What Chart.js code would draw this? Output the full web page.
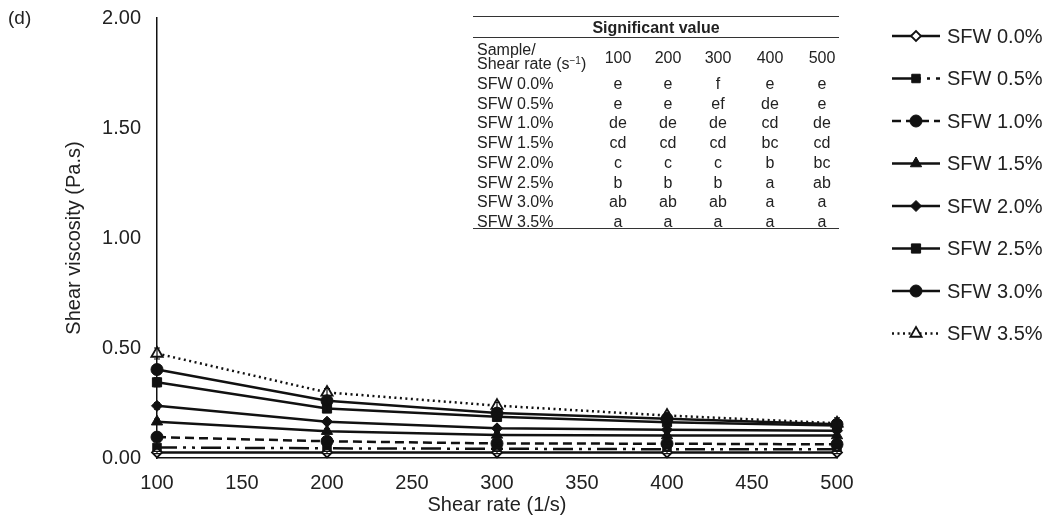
<!DOCTYPE html>
<html>
<head>
<meta charset="utf-8">
<script src="https://cdn.jsdelivr.net/npm/chart.js@4"></script>
<style>
  body { margin: 0; background: #fff; font-family: "Liberation Sans", Arial, sans-serif; }
  #wrap { position: relative; width: 1054px; height: 524px; }
  #tag { position: absolute; left: 8px; top: 7px; font-size: 19px; color: #222; }
  #sig { position: absolute; left: 473px; top: 16px; width: 366px; font-size: 16px; color: #222; }
  #sig .row { position: absolute; left: 0; width: 366px; height: 18px; line-height: 18px; }
  #sig .cell { position: absolute; width: 50px; margin-left: -25px; text-align: center; line-height: 18px; }
  #sig .name { position: absolute; left: 4px; line-height: 18px; }
  #sig .hline { position: absolute; left: 0; width: 366px; border-top: 1.3px solid #333; }
</style>
</head>
<body>
<div id="wrap">
  <canvas id="line_chart" width="1054" height="524"></canvas>
  <div id="tag">(d)</div>
  <div id="sig"></div>
</div>
<script>
// shear rate (1/s)
const shearRates = [100, 200, 300, 400, 500];

const sampleNames = ['SFW 0.0%', 'SFW 0.5%', 'SFW 1.0%', 'SFW 1.5%', 'SFW 2.0%', 'SFW 2.5%', 'SFW 3.0%', 'SFW 3.5%'];

// viscosity (Pa.s) for each sample
const sfw00 = [0.025, 0.025, 0.025, 0.025, 0.025];
const sfw05 = [0.048, 0.044, 0.042, 0.040, 0.040];
const sfw10 = [0.095, 0.076, 0.066, 0.065, 0.062];
const sfw15 = [0.165, 0.122, 0.105, 0.102, 0.102];
const sfw20 = [0.237, 0.165, 0.135, 0.128, 0.124];
const sfw25 = [0.344, 0.225, 0.187, 0.163, 0.148];
const sfw30 = [0.402, 0.260, 0.204, 0.178, 0.153];
const sfw35 = [0.475, 0.298, 0.238, 0.193, 0.158];

// standard deviations
const err00 = [0.005, 0.005, 0.005, 0.005, 0.005];
const err05 = [0.008, 0.006, 0.006, 0.006, 0.006];
const err10 = [0.010, 0.008, 0.008, 0.008, 0.008];
const err15 = [0.012, 0.010, 0.010, 0.010, 0.010];
const err20 = [0.015, 0.012, 0.012, 0.012, 0.012];
const err25 = [0.020, 0.015, 0.015, 0.015, 0.020];
const err30 = [0.022, 0.018, 0.018, 0.018, 0.022];
const err35 = [0.025, 0.018, 0.015, 0.015, 0.025];

const yTicks = [0, 0.5, 1, 1.5, 2];

// letters of the significance table
const tableCols = ['100', '200', '300', '400', '500'];
const tableRows = [
    ['e', 'e', 'f', 'e', 'e'],
    ['e', 'e', 'ef', 'de', 'e'],
    ['de', 'de', 'de', 'cd', 'de'],
    ['cd', 'cd', 'cd', 'bc', 'cd'],
    ['c', 'c', 'c', 'b', 'bc'],
    ['b', 'b', 'b', 'a', 'ab'],
    ['ab', 'ab', 'ab', 'a', 'a'],
    ['a', 'a', 'a', 'a', 'a']
];

const seriesValues = [sfw00, sfw05, sfw10, sfw15, sfw20, sfw25, sfw30, sfw35];
const seriesErrors = [err00, err05, err10, err15, err20, err25, err30, err35];
const markers = ['rectRot', 'rect', 'circle', 'triangle', 'rectRot', 'rect', 'circle', 'triangle'];
const markerSize = [5, 6, 6, 6.5, 5.5, 6.5, 6, 6.5];
const dashes = [[], [20, 6, 3, 6, 3, 6], [9, 5], [], [], [], [], [2, 3.5]];
const openMarker = [true, false, false, false, false, false, false, true];

const ink = '#111';
const fontFam = '"Liberation Sans", Arial, sans-serif';

const datasets = seriesValues.map(function (vals, i) {
    return {
        label: sampleNames[i],
        data: vals.map(function (v, k) { return { x: shearRates[k], y: v }; }),
        borderColor: ink,
        borderWidth: 2.5,
        borderDash: dashes[i],
        pointStyle: markers[i],
        pointRadius: markerSize[i],
        pointBorderWidth: openMarker[i] ? 1.8 : 1,
        pointBorderColor: ink,
        pointBackgroundColor: openMarker[i] ? '#fff' : ink,
        errors: seriesErrors[i],
        clip: false,
        tension: 0
    };
});

// vertical error bars
const errorBars = {
    id: 'errorBars',
    afterDatasetsDraw(chart) {
        const ctx = chart.ctx;
        const ys = chart.scales.y;
        ctx.save();
        ctx.strokeStyle = ink;
        ctx.lineWidth = 1.2;
        chart.data.datasets.forEach(function (ds, i) {
            const meta = chart.getDatasetMeta(i);
            meta.data.forEach(function (pt, k) {
                const v = ds.data[k].y;
                const e = ds.errors[k];
                const top = ys.getPixelForValue(v + e);
                const bot = ys.getPixelForValue(Math.max(0, v - e));
                ctx.beginPath();
                ctx.moveTo(pt.x, top); ctx.lineTo(pt.x, bot);
                ctx.moveTo(pt.x - 3, top); ctx.lineTo(pt.x + 3, top);
                ctx.moveTo(pt.x - 3, bot); ctx.lineTo(pt.x + 3, bot);
                ctx.stroke();
            });
        });
        ctx.restore();
    }
};

// legend on the right with line sample + marker
const sideLegend = {
    id: 'sideLegend',
    afterDraw(chart) {
        const ctx = chart.ctx;
        ctx.save();
        chart.data.datasets.forEach(function (ds, i) {
            const y = 36 + i * 42.5;
            ctx.strokeStyle = ink;
            ctx.lineWidth = 2.5;
            ctx.setLineDash(ds.borderDash);
            ctx.beginPath();
            ctx.moveTo(892, y); ctx.lineTo(940, y);
            ctx.stroke();
            ctx.setLineDash([]);
            ctx.fillStyle = ds.pointBackgroundColor;
            ctx.lineWidth = ds.pointBorderWidth;
            Chart.helpers.drawPoint(ctx, { pointStyle: ds.pointStyle, radius: ds.pointRadius, borderWidth: ds.pointBorderWidth }, 916, y);
            ctx.fillStyle = '#222';
            ctx.font = '20px ' + fontFam;
            ctx.textBaseline = 'middle';
            ctx.fillText(ds.label, 947, y + 1);
        });
        ctx.restore();
    }
};

new Chart(document.getElementById('line_chart').getContext('2d'), {
    type: 'line',
    data: { datasets: datasets },
    plugins: [errorBars, sideLegend],
    options: {
        responsive: false,
        animation: false,
        layout: { padding: { left: 62, right: 217, top: 18, bottom: 6 } },
        plugins: { legend: { display: false }, tooltip: { enabled: false } },
        scales: {
            x: {
                type: 'linear',
                min: 100, max: 500,
                afterFit: function (s) { s.height = 60; s.paddingTop = 0; s.paddingBottom = 0; },
                grid: { display: false, drawTicks: true, tickLength: 7, tickColor: ink, tickWidth: 1.5 },
                border: { color: ink, width: 1.5 },
                ticks: { stepSize: 50, color: '#222', padding: 6, font: { size: 20, family: fontFam } },
                title: { display: true, text: 'Shear rate (1/s)', color: '#222', padding: { top: 0, bottom: 1 }, font: { size: 20, family: fontFam } }
            },
            y: {
                min: 0, max: 2,
                afterFit: function (s) { s.width = 95; s.paddingTop = 0; s.paddingBottom = 0; },
                afterBuildTicks: function (s) { s.ticks = yTicks.map(function (v) { return { value: v }; }); },
                grid: { display: false, drawTicks: false },
                border: { color: ink, width: 1.5 },
                ticks: { color: '#222', padding: 16, font: { size: 20, family: fontFam },
                    callback: function (v) { return v.toFixed(2); } },
                title: { display: true, text: 'Shear viscosity (Pa.s)', color: '#222', padding: 0, font: { size: 20, family: fontFam } }
            }
        }
    }
});

// significance table
const sig = document.getElementById('sig');
const colX = [145, 195, 245, 297, 349];
const firstRowY = 59;
const rowStep = 19.7;
function addLine(y) {
    const d = document.createElement('div');
    d.className = 'hline';
    d.style.top = y + 'px';
    sig.appendChild(d);
}
addLine(0);
addLine(21);
let head = document.createElement('div');
head.className = 'row';
head.style.top = '3px';
head.style.textAlign = 'center';
head.style.fontWeight = 'bold';
head.textContent = 'Significant value';
sig.appendChild(head);
let lab = document.createElement('div');
lab.style.position = 'absolute';
lab.style.left = '4px';
lab.style.top = '27px';
lab.style.lineHeight = '14px';
lab.innerHTML = 'Sample/<br>Shear rate (s<sup style="font-size:10px;vertical-align:5px;line-height:0">\u22121</sup>)';
sig.appendChild(lab);
tableCols.forEach(function (c, j) {
    const d = document.createElement('div');
    d.className = 'cell';
    d.style.left = colX[j] + 'px';
    d.style.top = '33px';
    d.textContent = c;
    sig.appendChild(d);
});
tableRows.forEach(function (r, i) {
    const y = firstRowY + i * rowStep;
    const n = document.createElement('div');
    n.className = 'name';
    n.style.top = y + 'px';
    n.textContent = sampleNames[i];
    sig.appendChild(n);
    r.forEach(function (t, j) {
        const d = document.createElement('div');
        d.className = 'cell';
        d.style.left = colX[j] + 'px';
        d.style.top = y + 'px';
        d.textContent = t;
        sig.appendChild(d);
    });
});
addLine(212);
</script>
</body>
</html>
